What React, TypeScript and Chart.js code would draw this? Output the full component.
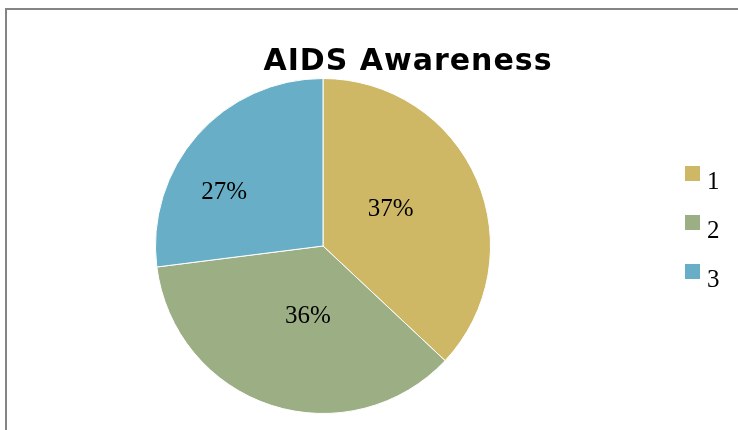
import React, { useEffect, useRef } from "react";
import { Chart, registerables } from "chart.js";

Chart.register(...registerables);

const chartTitle = "AIDS Awareness";
const categories = ["1", "2", "3"];
const values = [37, 36, 27];
const sliceColors = ["#CEB765", "#9CAF84", "#68AEC6"];
// label placement tweaks (style), per slice
const labelRadius = [0.46, 0.43, 0.67];
const labelAngleShiftDeg = [-5, -6, -13];

const serif = "'Liberation Serif', 'Times New Roman', serif";

const overlayPlugin = {
  id: "overlay",
  afterDraw(chart: any) {
    const ctx = chart.ctx as CanvasRenderingContext2D;
    const meta = chart.getDatasetMeta(0);
    const ds = chart.data.datasets[0];
    const data = ds.data as number[];
    const total = data.reduce((a, b) => a + b, 0);

    // Title
    ctx.save();
    ctx.fillStyle = "#000";
    ctx.font = "bold 30px 'DejaVu Sans', sans-serif";
    (ctx as any).letterSpacing = "1px";
    ctx.textAlign = "center";
    ctx.textBaseline = "alphabetic";
    ctx.fillText(chartTitle, 408, 69.5);
    (ctx as any).letterSpacing = "0px";
    ctx.restore();

    // Percent labels
    ctx.save();
    ctx.fillStyle = "#000";
    ctx.font = `25px ${serif}`;
    ctx.textAlign = "center";
    ctx.textBaseline = "middle";
    meta.data.forEach((arc: any, i: number) => {
      const p = arc.getProps(["x", "y", "startAngle", "endAngle", "outerRadius"], true);
      const mid = (p.startAngle + p.endAngle) / 2 + (labelAngleShiftDeg[i] * Math.PI) / 180;
      const r = p.outerRadius * labelRadius[i];
      const x = p.x + Math.cos(mid) * r;
      const y = p.y + Math.sin(mid) * r;
      const pct = Math.round((data[i] / total) * 100) + "%";
      ctx.fillText(pct, x, y);
    });
    ctx.restore();

    // Legend
    ctx.save();
    ctx.font = `25px ${serif}`;
    ctx.textAlign = "left";
    ctx.textBaseline = "alphabetic";
    (chart.data.labels as string[]).forEach((lab: string, i: number) => {
      const top = 166 + i * 49;
      ctx.fillStyle = (ds.backgroundColor as string[])[i];
      ctx.fillRect(685, top, 15, 15);
      ctx.fillStyle = "#000";
      ctx.fillText(lab, 707, top + 22.5);
    });
    ctx.restore();
  },
};

export default function App() {
  const ref = useRef<HTMLCanvasElement | null>(null);

  useEffect(() => {
    if (!ref.current) return;
    const chart = new Chart(ref.current, {
      type: "pie",
      data: {
        labels: categories,
        datasets: [
          {
            data: values,
            backgroundColor: sliceColors,
            borderColor: "#ffffff",
            borderWidth: 1,
          },
        ],
      },
      options: {
        animation: false,
        responsive: false,
        maintainAspectRatio: false,
        layout: { padding: { left: 155, right: 247, top: 78, bottom: 16 } },
        plugins: {
          legend: { display: false },
          title: { display: false },
          tooltip: { enabled: false },
        },
      },
      plugins: [overlayPlugin],
    });
    return () => chart.destroy();
  }, []);

  return (
    <div style={{ position: "absolute", left: 0, top: 0, width: 738, height: 430, overflow: "hidden", background: "#fff" }}>
      <div
        style={{
          position: "absolute",
          left: 5,
          top: 8,
          width: 800,
          height: 500,
          border: "2px solid #858585",
          boxSizing: "border-box",
        }}
      />
      <canvas ref={ref} width={738} height={430} style={{ position: "absolute", left: 0, top: 0 }} />
    </div>
  );
}
